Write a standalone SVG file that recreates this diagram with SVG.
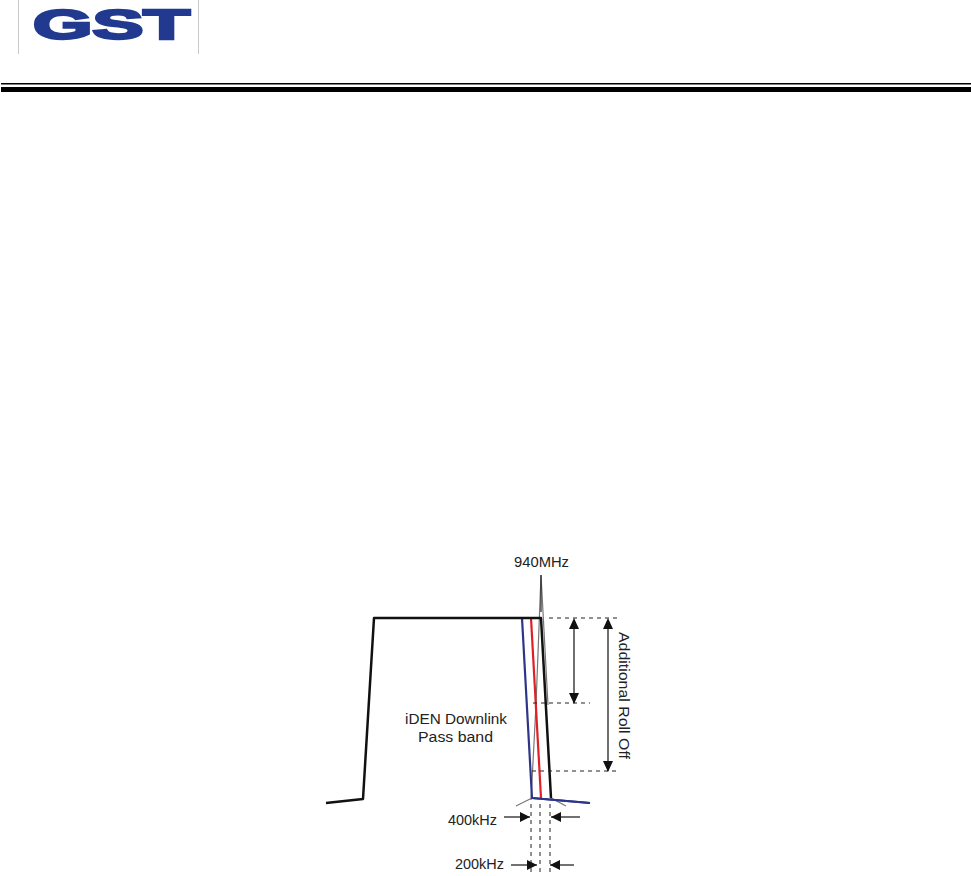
<svg xmlns="http://www.w3.org/2000/svg" width="971" height="876" viewBox="0 0 971 876">
<style>
.t{font-family:"Liberation Sans",Arial,sans-serif;font-size:14px;fill:#222}
.d{fill:none;stroke:#222;stroke-width:1;stroke-dasharray:4 4}
.a{fill:none;stroke:#111;stroke-width:1.200}
.ab{fill:none;stroke:#111;stroke-width:1.200;marker-end:url(#m)}
</style>
<defs><marker id="m" markerWidth="11" markerHeight="10" refX="10" refY="5" orient="auto" markerUnits="userSpaceOnUse"><path d="M0 0L10 5L0 10z" fill="#111"/></marker></defs>
<rect width="971" height="876" fill="#fff"/>
<g id="logo">
<path d="M18.500 0V54M198.500 0V54" stroke="#c8c8c8" stroke-width="1" fill="none"/>
<text x="33" y="39" font-family="Liberation Sans,sans-serif" font-weight="700" font-size="43" textLength="157" lengthAdjust="spacingAndGlyphs" fill="#213a8f" stroke="#213a8f" stroke-width="2.500">GST</text>
</g>
<g id="rule"><rect x="1" y="83" width="970" height="1.500" fill="#000"/><rect x="1" y="87" width="970" height="5" fill="#000"/></g>
<g id="curves" fill="none" stroke-linejoin="round">
<path d="M541 575L536 705L531 800M541 575L548 705" stroke="#777" stroke-width="1.200"/>
<path d="M541 575V612" stroke="#222" stroke-width="1.200"/>
<path d="M516 806L532 798M551 798L566 806" stroke="#777" stroke-width="1.200"/>
<path d="M522 618L532 798L590 803" stroke="#2e3588" stroke-width="2.200"/>
<path d="M531 618L541 798" stroke="#e01f26" stroke-width="2.200"/>
<path d="M326 803L363 799L374 618H541L551 798" stroke="#111" stroke-width="2.500"/>
<path d="M532 798L590 803" stroke="#2e3588" stroke-width="1.800"/>
</g>
<g id="connectors">
<path class="d" d="M549 618H617M533 703H590M532 771H617M531 804V872M540 804V872M550 804V872"/>
<path class="a" d="M574 620V703M608 620V771"/>
<path d="M574 618L569 629H579zM574 704L569 693H579zM608 618L603 629H613zM608 772L603 761H613z" fill="#111"/>
<path class="ab" d="M504 817H530"/><path class="ab" d="M580 817H551"/>
<path class="ab" d="M511 865H537"/><path class="ab" d="M574 865H550"/>
</g>
<g id="labels">
<text class="t" x="514" y="567" textLength="55" lengthAdjust="spacingAndGlyphs">940MHz</text>
<text class="t" x="405" y="724" textLength="102" lengthAdjust="spacingAndGlyphs">iDEN Downlink</text>
<text class="t" x="418" y="742" textLength="75" lengthAdjust="spacingAndGlyphs">Pass band</text>
<text class="t" x="448" y="825" textLength="49" lengthAdjust="spacingAndGlyphs">400kHz</text>
<text class="t" x="455" y="869" textLength="49" lengthAdjust="spacingAndGlyphs">200kHz</text>
<text class="t" transform="translate(619 632) rotate(90)" textLength="127" lengthAdjust="spacingAndGlyphs">Additional Roll Off</text>
</g>
</svg>
